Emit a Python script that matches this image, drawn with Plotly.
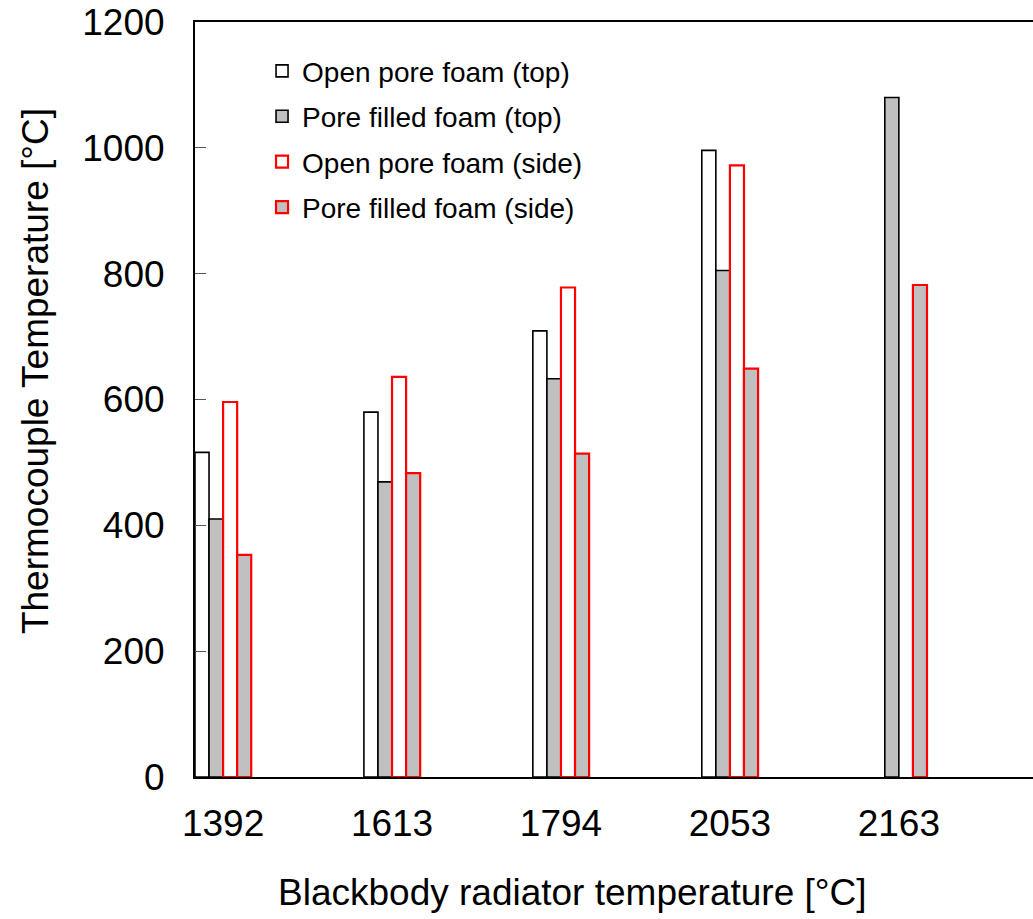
import plotly.graph_objects as go

categories = ["1392", "1613", "1794", "2053", "2163"]
open_top = [516, 580, 709, 996, None]
filled_top = [410, 469, 633, 805, 1080]
open_side = [596, 636, 778, 972, None]
filled_side = [353, 483, 514, 649, 782]
y_ticks = [0, 200, 400, 600, 800, 1000, 1200]

xpos = list(range(len(categories)))
FONT = "Arial, Liberation Sans, sans-serif"

fig = go.Figure()
series = [
    ("Open pore foam (top)", open_top, "white", "black", 1.6),
    ("Pore filled foam (top)", filled_top, "#C0C0C0", "black", 1.6),
    ("Open pore foam (side)", open_side, "white", "#FF0000", 2.2),
    ("Pore filled foam (side)", filled_side, "#C0C0C0", "#FF0000", 2.2),
]
for i, (name, vals, fill, line, lw) in enumerate(series):
    fig.add_trace(go.Bar(
        x=xpos, y=vals, name=name, legendgroup=f"g{i}",
        marker=dict(color=fill, line=dict(color=line, width=lw)),
    ))

fig.update_layout(
    width=1033, height=919,
    margin=dict(l=195, r=0, t=22, b=142),
    paper_bgcolor="white", plot_bgcolor="white",
    barmode="group", bargap=0.667, bargroupgap=0,
    font=dict(family=FONT, color="black"),
    showlegend=True,
    legend=dict(
        x=0.08, y=0.968, xanchor="left", yanchor="top",
        font=dict(size=28, family=FONT, color="black"),
        bgcolor="rgba(0,0,0,0)", borderwidth=0,
        tracegroupgap=6,
    ),
    annotations=[
        dict(text="Blackbody radiator temperature [°C]", xref="paper", yref="paper",
             x=0.451, y=-0.1536, xanchor="center", yanchor="middle", showarrow=False,
             font=dict(size=37, family=FONT, color="black")),
        dict(text="Thermocouple Temperature [°C]", xref="paper", yref="paper",
             x=-0.1909, y=0.5377, xanchor="center", yanchor="middle", showarrow=False,
             textangle=-90, font=dict(size=37, family=FONT, color="black")),
    ],
)
fig.update_xaxes(
    range=[-0.1663, 4.794],
    tickmode="array", tickvals=xpos, ticktext=categories,
    ticks="", showgrid=False, zeroline=False,
    showline=True, linecolor="black", linewidth=2, mirror=True,
    tickfont=dict(size=37, family=FONT, color="black"),
    ticklabelstandoff=13,
)
fig.update_yaxes(
    range=[0, 1200],
    tickmode="array", tickvals=y_ticks,
    ticks="inside", ticklen=11, tickwidth=1, tickcolor="#555555",
    showgrid=False, zeroline=False,
    showline=True, linecolor="black", linewidth=2, mirror=False,
    tickfont=dict(size=37, family=FONT, color="black"),
    ticklabelstandoff=21,
)

fig.write_html("out.html")
